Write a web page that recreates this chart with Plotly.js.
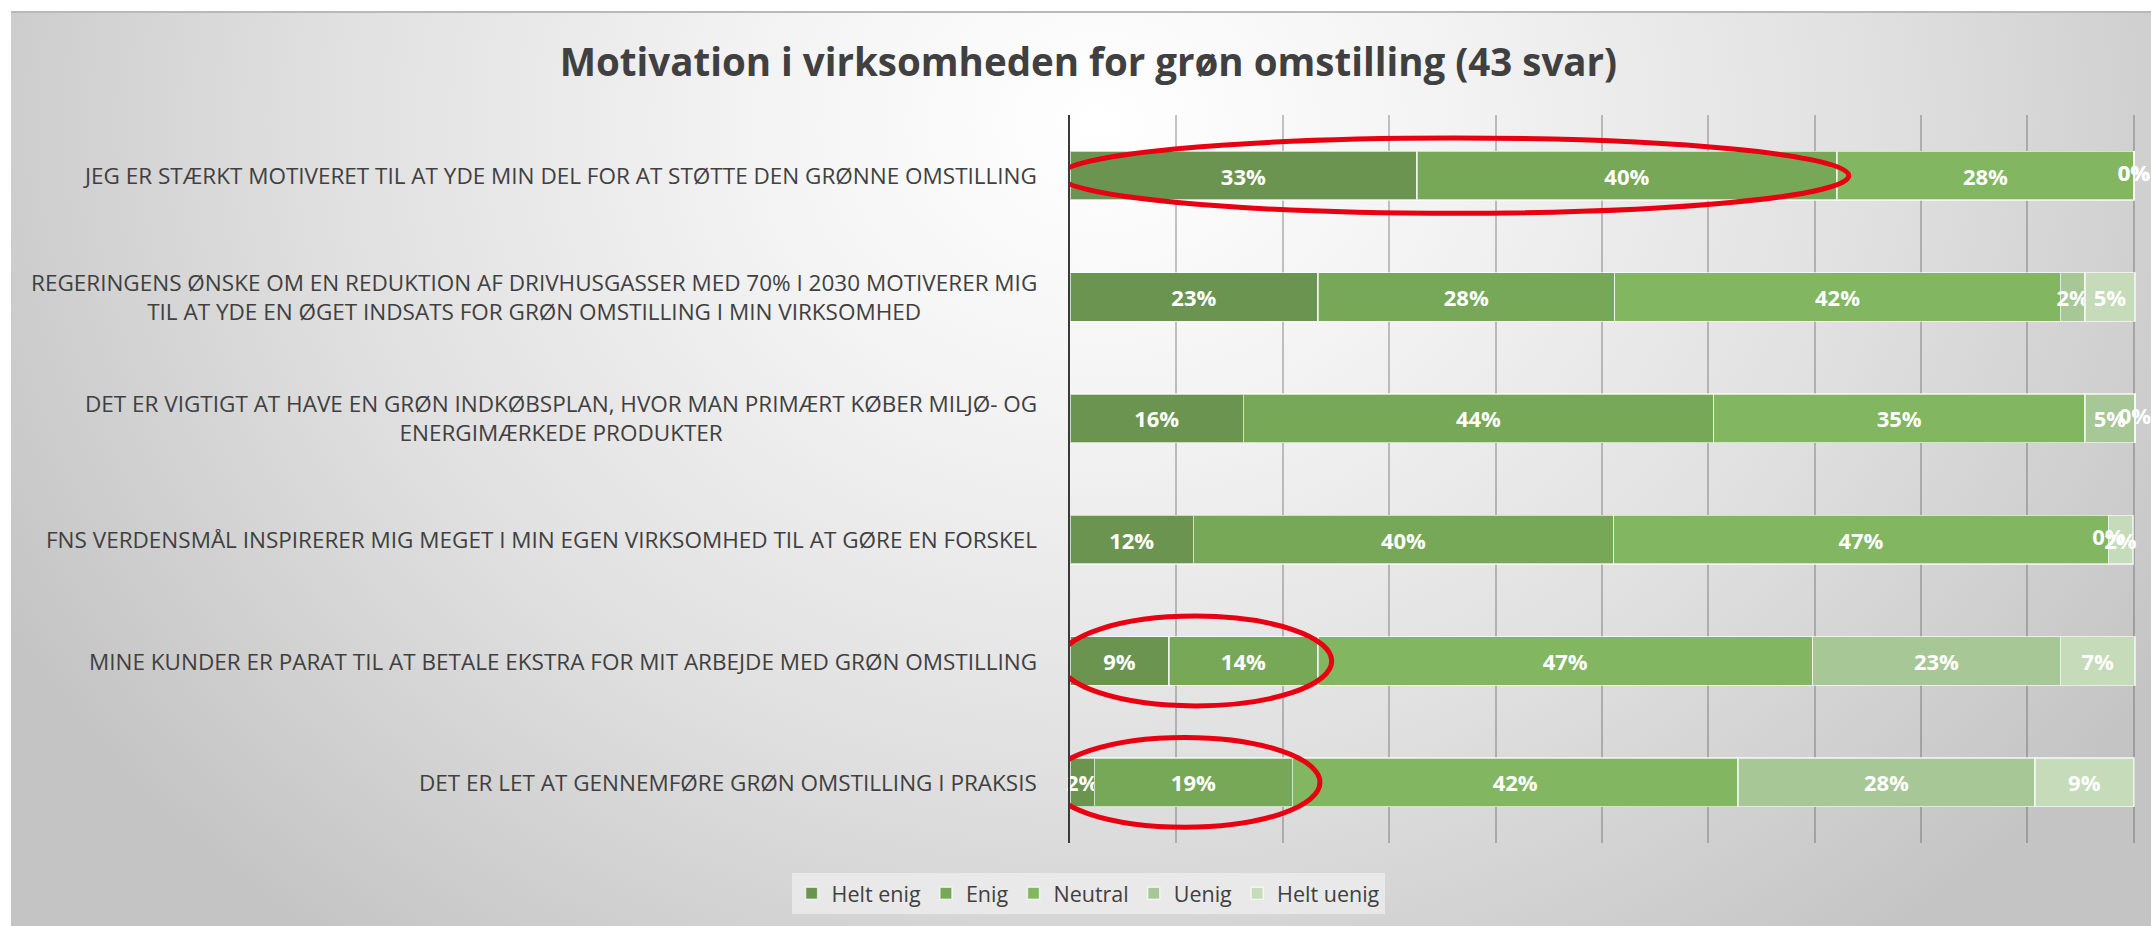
<!DOCTYPE html>
<html>
<head>
<meta charset="utf-8">
<script src="https://cdn.plot.ly/plotly-3.0.1.min.js"></script>
<style>
  html, body { margin: 0; padding: 0; background: #ffffff; }
  #wrap { position: relative; width: 2151px; height: 926px; overflow: hidden; }
  #bg { position: absolute; left: 11px; top: 11px; width: 2140px; height: 915px;
        border-top: 2px solid #b9b9b9; box-sizing: border-box;
        background: radial-gradient(ellipse 1250px 1050px at 1090px 110px, #ffffff 0%, #f3f3f3 28%, #e0e0e0 62%, #c4c4c4 100%); }
  #chart { position: absolute; left: 0; top: 0; width: 2151px; height: 926px; }
</style>
</head>
<body>
<div id="wrap"><div id="bg"></div><div id="chart"></div></div>
<script>
const categories = [
  "JEG ER STÆRKT MOTIVERET TIL AT YDE MIN DEL FOR AT STØTTE DEN GRØNNE OMSTILLING",
  "REGERINGENS ØNSKE OM EN REDUKTION AF DRIVHUSGASSER MED 70% I 2030 MOTIVERER MIG<br>TIL AT YDE EN ØGET INDSATS FOR GRØN OMSTILLING I MIN VIRKSOMHED",
  "DET ER VIGTIGT AT HAVE EN GRØN INDKØBSPLAN, HVOR MAN PRIMÆRT KØBER MILJØ- OG<br>ENERGIMÆRKEDE PRODUKTER",
  "FNS VERDENSMÅL INSPIRERER MIG MEGET I MIN EGEN VIRKSOMHED TIL AT GØRE EN FORSKEL",
  "MINE KUNDER ER PARAT TIL AT BETALE EKSTRA FOR MIT ARBEJDE MED GRØN OMSTILLING",
  "DET ER LET AT GENNEMFØRE GRØN OMSTILLING I PRAKSIS"
];
const seriesNames = ["Helt enig", "Enig", "Neutral", "Uenig", "Helt uenig"];
const heltEnig  = [32.6, 23.3, 16.3, 11.6,  9.3,  2.3];
const enig      = [39.5, 27.9, 44.2, 39.5, 14.0, 18.6];
const neutral   = [27.9, 41.9, 34.9, 46.5, 46.5, 41.9];
const uenig     = [ 0.0,  2.3,  4.7,  0.0, 23.3, 27.9];
const heltUenig = [ 0.0,  4.7,  0.0,  2.3,  7.0,  9.3];
const seriesColors = ["#6a9450", "#77a857", "#82b660", "#a8c797", "#c6dbba"];
const chartTitle = "Motivation i virksomheden for grøn omstilling (43 svar)";
// highlighted groups: row index, percent range start/end, half height in rows
const highlights = [
  {row: 0, from: -1.0, to: 73.2, half: 0.31},
  {row: 4, from: -1.0, to: 24.6, half: 0.37},
  {row: 5, from: -1.9, to: 23.5, half: 0.37}
];

const seriesValues = [heltEnig, enig, neutral, uenig, heltUenig];
const FONT = "Open Sans, Lato, sans-serif";

const traces = seriesValues.map((vals, i) => ({
  type: "bar",
  orientation: "h",
  name: seriesNames[i],
  x: vals,
  y: categories,
  marker: { color: seriesColors[i], line: { color: "rgba(255,255,255,0.65)", width: 1.5 } },
  texttemplate: "%{x:.0f}%",
  textposition: "inside",
  insidetextanchor: "middle",
  textangle: 0,
  constraintext: "none",
  cliponaxis: false,
  textfont: { family: FONT, size: 22, color: "#ffffff", weight: 700 },
  hoverinfo: "name+x"
}));

// zero-valued segments still carry a "0%" label at their (zero-width) position
const zx = [], zy = [], zt = [];
categories.forEach((c, r) => {
  let cum = 0;
  seriesValues.forEach(vals => {
    if (vals[r] === 0) { zx.push(cum); zy.push(c); zt.push("0%"); }
    cum += vals[r];
  });
});
traces.push({
  type: "scatter", mode: "text", x: zx, y: zy, text: zt,
  textposition: "middle center", cliponaxis: false, showlegend: false, hoverinfo: "skip",
  textfont: { family: FONT, size: 22, color: "#ffffff", weight: 700 }
});

const annotations = categories.map(c => ({
  xref: "paper", yref: "y", x: -0.029, y: c, xanchor: "right", yanchor: "middle",
  text: c, align: "center", showarrow: false,
  font: { family: FONT, size: 22.5, color: "#404040" }
}));

const shapes = highlights.map(h => ({
  type: "circle", xref: "x", yref: "y",
  x0: h.from, x1: h.to, y0: h.row - h.half, y1: h.row + h.half,
  line: { color: "rgb(232,0,18)", width: 5 }, layer: "above"
}));

const layout = {
  width: 2151, height: 926,
  paper_bgcolor: "rgba(0,0,0,0)", plot_bgcolor: "rgba(0,0,0,0)",
  font: { family: FONT, color: "#404040" },
  margin: { l: 1070, r: 15, t: 115, b: 83, pad: 0 },
  title: { text: chartTitle, x: 0.506, xref: "container", xanchor: "center", y: 0.933, yanchor: "middle",
           font: { family: FONT, size: 38.5, color: "#404040", weight: 700 } },
  barmode: "stack", bargap: 0.6,
  xaxis: { range: [0, 100.2], dtick: 10, showticklabels: false, showgrid: true,
           gridcolor: "rgba(80,80,80,0.33)", gridwidth: 2, zeroline: false, showline: false, fixedrange: true },
  yaxis: { type: "category", autorange: "reversed", showticklabels: false, showgrid: false,
           showline: true, linecolor: "#3a3a3a", linewidth: 2, ticks: "", zeroline: false },
  legend: { orientation: "h", x: 0.017, xanchor: "center", y: -0.041, yanchor: "top",
            bgcolor: "rgba(245,245,245,0.6)", traceorder: "normal",
            font: { family: FONT, size: 21.5, color: "#404040" } },
  annotations: annotations,
  shapes: shapes,
  showlegend: true
};

Plotly.newPlot("chart", traces, layout, { displayModeBar: false, staticPlot: true });
</script>
</body>
</html>
